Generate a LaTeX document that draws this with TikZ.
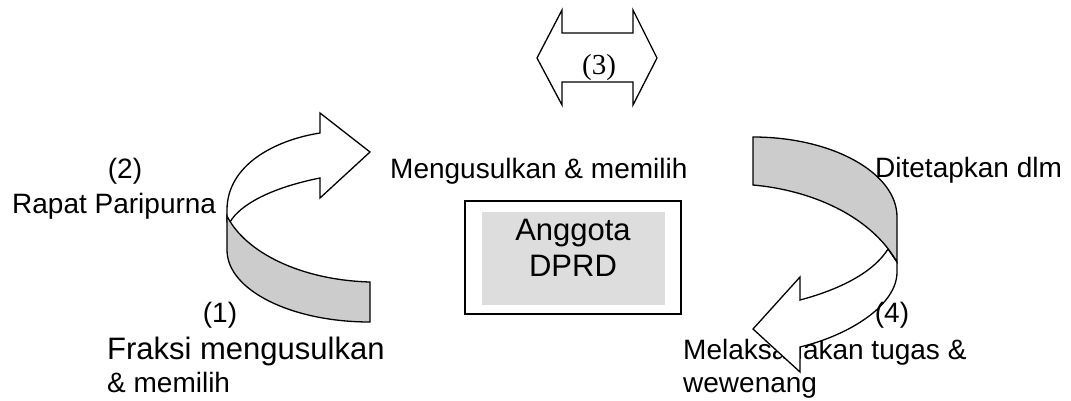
\documentclass[tikz,border=0pt]{standalone}
\usepackage{fontspec}
\setmainfont{Liberation Sans}
\newfontfamily\timesfont{Liberation Serif}
\definecolor{bandgray}{HTML}{CCCCCC}
\definecolor{boxgray}{HTML}{DDDDDD}
\tikzset{
  lbl/.style={inner sep=0pt, font=\fontsize{28}{33}\selectfont},
  shapeline/.style={line width=1.3pt, line join=miter},
}
\begin{document}
\begin{tikzpicture}[x=1pt,y=-1pt]
\useasboundingbox (0,0) rectangle (1071,400);

% text under the right arrow
\node[lbl, anchor=base west] (melak) at (683,359) {Melaksanakan tugas \&};
\node[lbl, anchor=base west] (wew) at (683,392) {wewenang};

% double arrow (3)
\draw[shapeline, fill=white] (537,58) -- (562,10) -- (562,33) -- (633,33) -- (633,10)
  -- (657,58) -- (633,105) -- (633,82) -- (562,82) -- (562,105) -- cycle;
\node[inner sep=0pt, anchor=base, font=\timesfont\fontsize{29}{33}\selectfont] (three) at (599,74) {(3)};

% left curved arrow
\draw[shapeline, fill=white] (227,222) -- (227,210) .. controls (227,165) and (275,140) .. (320,133)
  -- (320,113) -- (370,152) -- (320,198) -- (320,178)
  .. controls (270,188) and (240,205) .. (230,222) -- cycle;
\draw[shapeline, fill=bandgray] (227,216) -- (227,250) .. controls (227,290) and (291,322) .. (370,322)
  -- (370,282) .. controls (300,280) and (245,252) .. (227,216) -- cycle;

% right curved arrow
\draw[shapeline, fill=white] (897,262) -- (897,272) .. controls (897,305) and (850,335) .. (800,347)
  -- (800,372) -- (753,329) -- (800,277) -- (800,300)
  .. controls (845,288) and (875,270) .. (888,249) -- cycle;
\draw[shapeline, fill=bandgray] (753,185) -- (753,137) .. controls (832.5,137) and (897,173) .. (897,217)
  -- (897,262) .. controls (870,215) and (810,190) .. (753,185) -- cycle;

% central box
\node[draw, line width=1.8pt, minimum width=216pt, minimum height=113pt, inner sep=0pt] (box) at (573,257.5) {};
\node[fill=boxgray, minimum width=183pt, minimum height=93pt, inner sep=0pt] (inner) at (573.3,258.3) {};
\node[inner sep=0pt, anchor=base, font=\fontsize{31}{36}\selectfont] (ang) at (573,240) {Anggota};
\node[inner sep=0pt, anchor=base, font=\fontsize{31}{36}\selectfont] (dprd) at (573,276) {DPRD};

% labels
\node[lbl, anchor=base] (two) at (125,178) {(2)};
\node[lbl, anchor=base west] (rapat) at (12,213) {Rapat Paripurna};
\node[lbl, anchor=base] (one) at (220,322) {(1)};
\node[inner sep=0pt, anchor=base west, font=\fontsize{31}{35}\selectfont] (fraksi) at (107,359) {Fraksi mengusulkan};
\node[lbl, anchor=base west] (memilih) at (107,392) {\& memilih};
\node[lbl, anchor=base west] (meng) at (390,178) {Mengusulkan \& memilih};
\node[lbl, anchor=base west] (dite) at (875,177) {Ditetapkan dlm};
\node[lbl, anchor=base] (four) at (892,322) {(4)};
\end{tikzpicture}
\end{document}
